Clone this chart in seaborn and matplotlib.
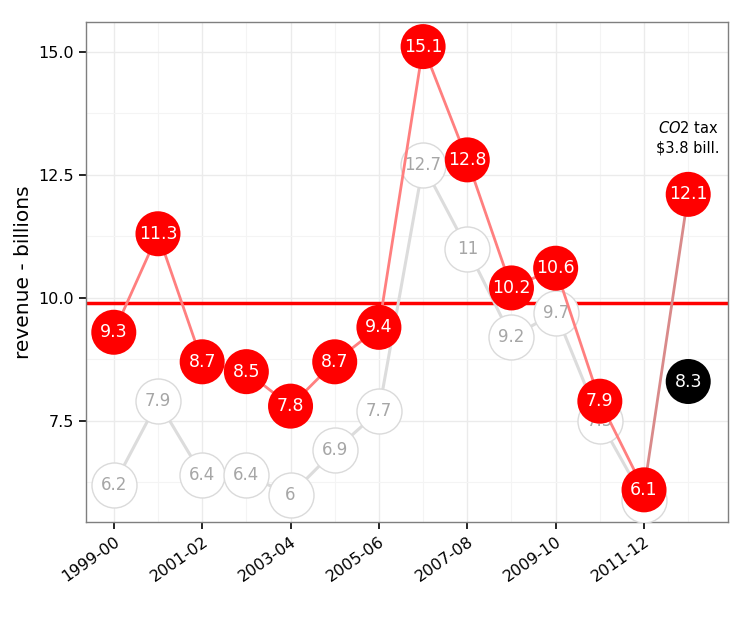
import numpy as np
import pandas as pd
import matplotlib
matplotlib.use("Agg")
import matplotlib.pyplot as plt
from matplotlib.ticker import FixedLocator
import seaborn as sns

seasons = ["1999-00", "2000-01", "2001-02", "2002-03", "2003-04", "2004-05", "2005-06",
           "2006-07", "2007-08", "2008-09", "2009-10", "2010-11", "2011-12", "2012-13"]
# red series (with the CO2 tax in the last year)
revenue = [9.3, 11.3, 8.7, 8.5, 7.8, 8.7, 9.4, 15.1, 12.8, 10.2, 10.6, 7.9, 6.1, 12.1]
# grey series
other = [6.2, 7.9, 6.4, 6.4, 6.0, 6.9, 7.7, 12.7, 11.0, 9.2, 9.7, 7.5, 5.9]
# 2012-13 without the CO2 tax
no_tax = [8.3]
note = "$\\mathit{CO2}$ tax\n\\$3.8 bill."

sns.set_style("white")
plt.rcParams["font.family"] = ["DejaVu Sans"]

df_red = pd.DataFrame({"pos": np.arange(len(revenue)), "value": revenue})
df_grey = pd.DataFrame({"pos": np.arange(len(other)), "value": other})
df_black = pd.DataFrame({"pos": [len(revenue) - 1], "value": no_tax})

fig, ax = plt.subplots(figsize=(7.54, 6.28), dpi=100)
fig.subplots_adjust(left=0.114, right=0.9655, top=0.965, bottom=0.169)

# grey series
sns.lineplot(data=df_grey, x="pos", y="value", color="#dcdcdc", lw=2.2, ax=ax, zorder=2)
sns.scatterplot(data=df_grey, x="pos", y="value", s=1050, color="white",
                edgecolor="#dadada", linewidth=1, zorder=3, ax=ax)
# last grey label sits hidden behind the red 6.1 marker
for p, v in zip(df_grey["pos"][:-1], df_grey["value"][:-1]):
    ax.text(p, v, f"{v:g}", color="#a6a6a6", fontsize=12, ha="center", va="center", zorder=3.5)

# mean line
ax.axhline(np.mean(revenue), color="red", lw=2.5, zorder=1.5)

# red series
sns.lineplot(data=df_red.iloc[:-1], x="pos", y="value", color="#ff7f7f", lw=2, ax=ax, zorder=4)
sns.lineplot(data=df_red.iloc[-2:], x="pos", y="value", color="#d98a8a", lw=2, ax=ax, zorder=4)
sns.scatterplot(data=df_red, x="pos", y="value", s=1050, color="red",
                edgecolor="none", zorder=5, ax=ax)
for p, v in zip(df_red["pos"], df_red["value"]):
    ax.text(p, v, f"{v:g}", color="white", fontsize=12.5, ha="center", va="center", zorder=6)

# no-tax point
sns.scatterplot(data=df_black, x="pos", y="value", s=1050, color="black",
                edgecolor="none", zorder=5, ax=ax)
for p, v in zip(df_black["pos"], df_black["value"]):
    ax.text(p, v, f"{v:g}", color="white", fontsize=12.5, ha="center", va="center", zorder=6)

ax.text(len(revenue) - 1, 13.25, note, fontsize=10.5, color="black",
        ha="center", va="center", linespacing=1.4)

ax.set_xlim(-0.63, 13.9)
ax.set_ylim(5.45, 15.6)
ax.set_xticks(np.arange(0, len(seasons), 2))
ax.set_xticklabels(seasons[::2], rotation=35, ha="right", rotation_mode="anchor", fontsize=11.5)
ax.xaxis.set_minor_locator(FixedLocator(np.arange(1, len(seasons), 2)))
ax.set_yticks([7.5, 10.0, 12.5, 15.0])
ax.set_yticklabels(["7.5", "10.0", "12.5", "15.0"], fontsize=11.5)
ax.yaxis.set_minor_locator(FixedLocator([6.25, 8.75, 11.25, 13.75]))
ax.grid(which="major", color="#ebebeb", lw=1, zorder=0)
ax.grid(which="minor", color="#f4f4f4", lw=0.8, zorder=0)
ax.set_axisbelow(True)
ax.tick_params(which="major", direction="out", length=5, width=1.2, color="black",
               labelcolor="black", bottom=True, left=True)
ax.tick_params(which="minor", length=0)
for s in ax.spines.values():
    s.set_color("#7f7f7f")
    s.set_linewidth(1)
ax.set_xlabel("")
ax.set_ylabel("revenue - billions", fontsize=14.5, color="black")

fig.savefig("out.png", dpi=100)
